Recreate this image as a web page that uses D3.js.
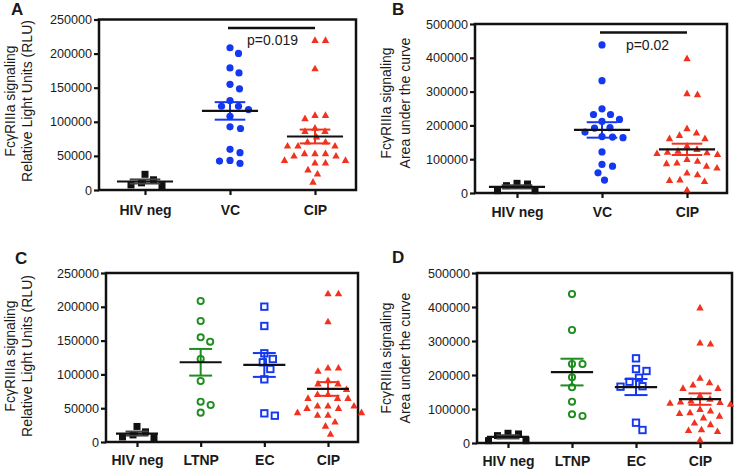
<!DOCTYPE html>
<html><head><meta charset="utf-8">
<script src="https://cdn.jsdelivr.net/npm/d3@7"></script>
<style>
body{margin:0;background:#fff}
svg{display:block}
text{font-family:"Liberation Sans",Arial,Helvetica,sans-serif;fill:#1a1a1a}
</style>
</head><body><script>
// ---------- data ----------
const topCategories = ["HIV neg", "VC", "CIP"];
const bottomCategories = ["HIV neg", "LTNP", "EC", "CIP"];
const rluTicks = [0, 50000, 100000, 150000, 200000, 250000];
const aucTicks = [0, 100000, 200000, 300000, 400000, 500000];

const hivNegRLU = [10500, 23000, 15000, 6500, 7500];
const ltnpRLU = [208600, 179000, 148400, 154900, 122800, 90200, 59600, 54700, 43400];
const ecRLU = [200200, 171600, 131200, 117900, 122800, 108000, 92700, 38900, 42400];
const vcRLU = ltnpRLU.concat(ecRLU);
const cipRLU = [219900, 219900, 178400, 110000, 110000, 105100, 91300, 86500, 86500, 78200,
  70800, 70800, 65000, 65000, 65000, 53800, 53800, 53800, 50300, 50300,
  44000, 44000, 40000, 40000, 30000, 24000, 12000];

const hivNegAUC = [28600, 21700, 6900, 6900, 26600];
const ltnpAUC = [438200, 332300, 232300, 232300, 193200, 163800, 121500, 79400, 84400];
const ecAUC = [249000, 211800, 217600, 192000, 180300, 165600, 167000, 38200, 59700];
const vcAUC = ltnpAUC.concat(ecAUC);
const cipAUC = [398500, 295000, 292000, 191400, 178400, 171600, 161800, 161800, 140000, 130000,
  125000, 122000, 120000, 118000, 115000, 100000, 95000, 90000, 88000, 80000,
  75000, 60000, 55000, 40000, 38000, 35000, 10000];

const pValueA = "p=0.019";
const pValueB = "p=0.02";

// ---------- drawing ----------
const W = 734, H = 471;
const svg = d3.select("body").append("svg").attr("width", W).attr("height", H);
const col = {black: "#111111", blue: "#1437f0", red: "#f0321e", green: "#1e8c1e"};

// beeswarm placement: horizontal spread computed from collisions (ellipse: wider than tall)
function swarm(values, y, cx, dx, dy) {
  const pts = values.map(v => ({v, y: y(v)})).sort((a, b) => a.y - b.y);
  const placed = [];
  for (const p of pts) {
    let off = 0;
    for (let k = 0; k < 800; k++) {
      const o = k === 0 ? 0 : (k % 2 ? 1 : -1) * Math.ceil(k / 2) * 0.5;
      if (placed.every(q => ((q.x - o) / dx) ** 2 + ((q.y - p.y) / dy) ** 2 >= 1)) { off = o; break; }
    }
    p.x = off; placed.push(p);
  }
  return pts.map(p => ({x: cx + p.x, y: p.y}));
}

function drawMarker(g, shape, color, x, y) {
  if (shape === "square") {
    g.append("rect").attr("x", x - 3.5).attr("y", y - 3.5).attr("width", 7).attr("height", 7).attr("fill", color);
  } else if (shape === "circle") {
    g.append("circle").attr("cx", x).attr("cy", y).attr("r", 3.6).attr("fill", color);
  } else if (shape === "triangle") {
    g.append("path").attr("d", `M${x},${y - 3.7}L${x + 3.7},${y + 2.9}L${x - 3.7},${y + 2.9}Z`).attr("fill", color);
  } else if (shape === "ocircle") {
    g.append("circle").attr("cx", x).attr("cy", y).attr("r", 3.1).attr("fill", "none").attr("stroke", color).attr("stroke-width", 1.9);
  } else if (shape === "osquare") {
    g.append("rect").attr("x", x - 3.2).attr("y", y - 3.2).attr("width", 6.4).attr("height", 6.4).attr("fill", "none").attr("stroke", color).attr("stroke-width", 1.9);
  }
}

function drawPanel(p) {
  const g = svg.append("g");
  const y = d3.scaleLinear().domain([0, p.ticks[p.ticks.length - 1]]).range([p.bottom, p.top]);
  const x = d3.scalePoint().domain(p.cats).range(p.catRange);
  const step = x.step();

  g.append("g").attr("transform", `translate(${p.axisX},0)`)
    .call(d3.axisLeft(y).tickValues(p.ticks).tickFormat(d3.format("d")).tickSize(5).tickSizeOuter(0).tickPadding(2))
    .call(a => a.select(".domain").remove())
    .call(a => a.selectAll("line").attr("stroke", "#111").attr("stroke-width", 2.2))
    .call(a => a.selectAll("text").attr("font-size", 12.6).attr("fill", "#222"));

  g.append("g").attr("transform", `translate(0,${p.bottom})`)
    .call(d3.axisBottom(x).tickSize(5).tickSizeOuter(0).tickPadding(p.labelPad))
    .call(a => a.select(".domain").remove())
    .call(a => a.selectAll("line").attr("stroke", "#111").attr("stroke-width", 2.2))
    .call(a => a.selectAll("text").attr("font-size", 14).attr("font-weight", "bold").attr("fill", "#111"));

  g.append("rect").attr("x", p.axisX).attr("y", p.top).attr("width", p.right - p.axisX).attr("height", p.bottom - p.top)
    .attr("fill", "none").attr("stroke", "#111").attr("stroke-width", 2.5);

  p.series.forEach(s => {
    const cx = x(s.cat);
    const pts = swarm(s.values, y, cx, 10.5, 9);
    const mg = g.append("g");
    pts.forEach(pt => drawMarker(mg, s.shape, s.color, pt.x, pt.y));
    const m = d3.mean(s.values);
    const sem = d3.deviation(s.values) / Math.sqrt(s.values.length);
    const cap = step * 0.18;
    const eb = g.append("g").attr("stroke", s.shape === "square" ? "#444" : s.color).attr("stroke-width", 2);
    eb.append("line").attr("x1", cx).attr("x2", cx).attr("y1", y(m + sem)).attr("y2", y(m - sem));
    eb.append("line").attr("x1", cx - cap).attr("x2", cx + cap).attr("y1", y(m + sem)).attr("y2", y(m + sem));
    eb.append("line").attr("x1", cx - cap).attr("x2", cx + cap).attr("y1", y(m - sem)).attr("y2", y(m - sem));
    const half = step * 0.33;
    g.append("line").attr("x1", cx - half).attr("x2", cx + half).attr("y1", y(m)).attr("y2", y(m))
      .attr("stroke", "#111").attr("stroke-width", 2.2);
  });

  if (p.sig) {
    g.append("line").attr("x1", x(p.sig.from) - 2).attr("x2", x(p.sig.to)).attr("y1", p.sig.y).attr("y2", p.sig.y)
      .attr("stroke", "#111").attr("stroke-width", 2.5);
    g.append("text").attr("x", (x(p.sig.from) + x(p.sig.to)) / 2 + p.sig.dx).attr("y", p.sig.y + 17)
      .attr("text-anchor", "middle").attr("font-size", 14).text(p.sig.text);
  }

  p.title.forEach((t, i) => {
    g.append("text").attr("transform", `translate(${p.titleX[i]},${p.titleY}) rotate(-90)`)
      .attr("text-anchor", "middle").attr("font-size", 14).text(t);
  });

  g.append("text").attr("x", p.letterX).attr("y", p.letterY).attr("font-size", 17).attr("font-weight", "bold")
    .attr("fill", "#111").text(p.letter);
}

const rluTitle = ["FcγRIIIa signaling", "Relative Light Units (RLU)"];
const aucTitle = ["FcγRIIIa signaling", "Area under the curve"];

drawPanel({
  letter: "A", letterX: 11, letterY: 15,
  axisX: 99, right: 356, top: 19.5, bottom: 190, catRange: [145, 315], labelPad: 10,
  cats: topCategories, ticks: rluTicks, title: rluTitle, titleX: [14.5, 32], titleY: 101,
  series: [
    {cat: "HIV neg", values: hivNegRLU, shape: "square", color: col.black},
    {cat: "VC", values: vcRLU, shape: "circle", color: col.blue},
    {cat: "CIP", values: cipRLU, shape: "triangle", color: col.red}
  ],
  sig: {from: "VC", to: "CIP", y: 28, text: pValueA, dx: 0}
});

drawPanel({
  letter: "B", letterX: 392, letterY: 15,
  axisX: 475, right: 727, top: 24, bottom: 193, catRange: [517, 687], labelPad: 9,
  cats: topCategories, ticks: aucTicks, title: aucTitle, titleX: [391, 410], titleY: 103,
  series: [
    {cat: "HIV neg", values: hivNegAUC, shape: "square", color: col.black},
    {cat: "VC", values: vcAUC, shape: "circle", color: col.blue},
    {cat: "CIP", values: cipAUC, shape: "triangle", color: col.red}
  ],
  sig: {from: "VC", to: "CIP", y: 32.5, text: pValueB, dx: 3}
});

drawPanel({
  letter: "C", letterX: 15, letterY: 264,
  axisX: 106, right: 358, top: 273, bottom: 442, catRange: [137, 328], labelPad: 8,
  cats: bottomCategories, ticks: rluTicks, title: rluTitle, titleX: [14.5, 32], titleY: 356,
  series: [
    {cat: "HIV neg", values: hivNegRLU, shape: "square", color: col.black},
    {cat: "LTNP", values: ltnpRLU, shape: "ocircle", color: col.green},
    {cat: "EC", values: ecRLU, shape: "osquare", color: col.blue},
    {cat: "CIP", values: cipRLU, shape: "triangle", color: col.red}
  ]
});

drawPanel({
  letter: "D", letterX: 392, letterY: 263,
  axisX: 477, right: 732, top: 273, bottom: 443, catRange: [508, 700], labelPad: 8,
  cats: bottomCategories, ticks: aucTicks, title: aucTitle, titleX: [391, 410], titleY: 358,
  series: [
    {cat: "HIV neg", values: hivNegAUC, shape: "square", color: col.black},
    {cat: "LTNP", values: ltnpAUC, shape: "ocircle", color: col.green},
    {cat: "EC", values: ecAUC, shape: "osquare", color: col.blue},
    {cat: "CIP", values: cipAUC, shape: "triangle", color: col.red}
  ]
});
</script></body></html>
